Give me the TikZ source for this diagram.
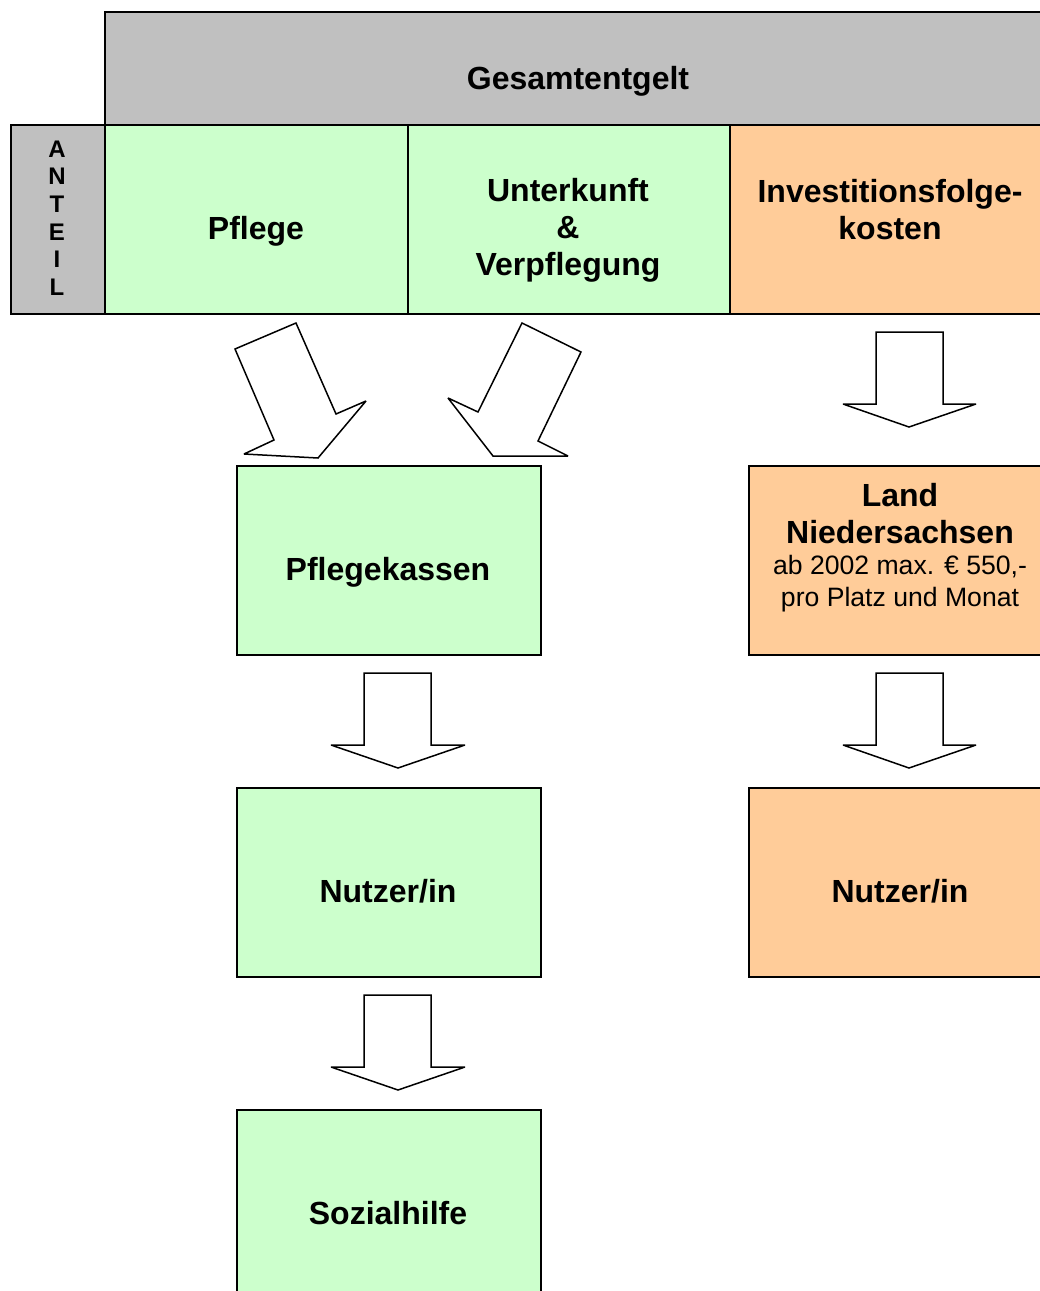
\documentclass[tikz,border=0pt]{standalone}
\usepackage{fontspec}
\setmainfont{Liberation Sans}
\definecolor{grayfill}{HTML}{C0C0C0}
\definecolor{greenfill}{HTML}{CCFFCC}
\definecolor{orangefill}{HTML}{FFCC99}
\tikzset{
  box/.style={draw=black, line width=1.8pt, inner sep=0pt, anchor=north west},
  blockarrow/.style={draw=black, fill=white, line width=1.5pt, line join=miter, miter limit=2},
  bigtxt/.style={font=\fontsize{32}{37}\selectfont\bfseries, align=center, inner sep=0pt},
  smalltxt/.style={font=\fontsize{26.6}{32}\selectfont, align=center, inner sep=0pt},
}
\begin{document}
\begin{tikzpicture}[x=1pt,y=-1pt]
\useasboundingbox (0,0) rectangle (1040,1291);
\clip (0,0) rectangle (1040,1291);
\fill[white] (0,0) rectangle (1040,1291);

% header boxes
\node[box, fill=grayfill, minimum width=948pt, minimum height=113pt] (ges) at (104,11) {};
\node[box, fill=grayfill, minimum width=94pt, minimum height=189pt] (anteil) at (10,124) {};
\node[box, fill=greenfill, minimum width=303pt, minimum height=189pt] (pflege) at (104,124) {};
\node[box, fill=greenfill, minimum width=322pt, minimum height=189pt] (unterkunft) at (407,124) {};
\node[box, fill=orangefill, minimum width=323pt, minimum height=189pt] (invest) at (729,124) {};

% lower boxes
\node[box, fill=greenfill, minimum width=304pt, minimum height=189pt] (kassen) at (236,465) {};
\node[box, fill=greenfill, minimum width=304pt, minimum height=189pt] (nutzerL) at (236,787) {};
\node[box, fill=greenfill, minimum width=304pt, minimum height=200pt] (sozial) at (236,1109) {};
\node[box, fill=orangefill, minimum width=304pt, minimum height=189pt] (land) at (748,465) {};
\node[box, fill=orangefill, minimum width=304pt, minimum height=189pt] (nutzerR) at (748,787) {};

% texts
\node[bigtxt, anchor=base] (tges) at (578,89.5) {Gesamtentgelt};
\node[font=\fontsize{24}{27.6}\selectfont\bfseries, align=center, inner sep=0pt] (tanteil) at (57,218) {A\\N\\T\\E\\I\\L};
\node[bigtxt, anchor=base] (tpflege) at (256,239.5) {Pflege};
\node[bigtxt] (tunter) at (568,230) {Unterkunft\\\&\\Verpflegung};
\node[bigtxt] (tinvest) at (890,210) {Investitionsfolge-\\kosten};
\node[bigtxt, anchor=base] (tkassen) at (388,580.5) {Pflegekassen};
\node[bigtxt, anchor=base] (tnutzerL) at (388,902.5) {Nutzer/in};
\node[bigtxt, anchor=base] (tsozial) at (388,1224.5) {Sozialhilfe};
\node[bigtxt] (tland) at (900,513.5) {Land\\Niedersachsen};
\node[smalltxt] (tlandsub) at (900,584) {ab 2002 max. € 550,-\\pro Platz und Monat};
\node[bigtxt, anchor=base] (tnutzerR) at (900,902.5) {Nutzer/in};

% block arrows
\draw[blockarrow] (296,323) -- (235,349) -- (274,440) -- (244,454) -- (318,458) -- (366,401) -- (336,414) -- cycle;
\draw[blockarrow] (522,323) -- (581,352) -- (538,441) -- (568,456) -- (493,456) -- (448,398) -- (478,412) -- cycle;
\draw[blockarrow] (876,332) -- (943,332) -- (943,404) -- (976,404) -- (909,427) -- (843,404) -- (876,404) -- cycle;
\draw[blockarrow] (364,673) -- (431,673) -- (431,745) -- (465,745) -- (398,768) -- (331,745) -- (364,745) -- cycle;
\draw[blockarrow] (876,673) -- (943,673) -- (943,745) -- (976,745) -- (909,768) -- (843,745) -- (876,745) -- cycle;
\draw[blockarrow] (364,995) -- (431,995) -- (431,1067) -- (465,1067) -- (398,1090) -- (331,1067) -- (364,1067) -- cycle;
\end{tikzpicture}
\end{document}
